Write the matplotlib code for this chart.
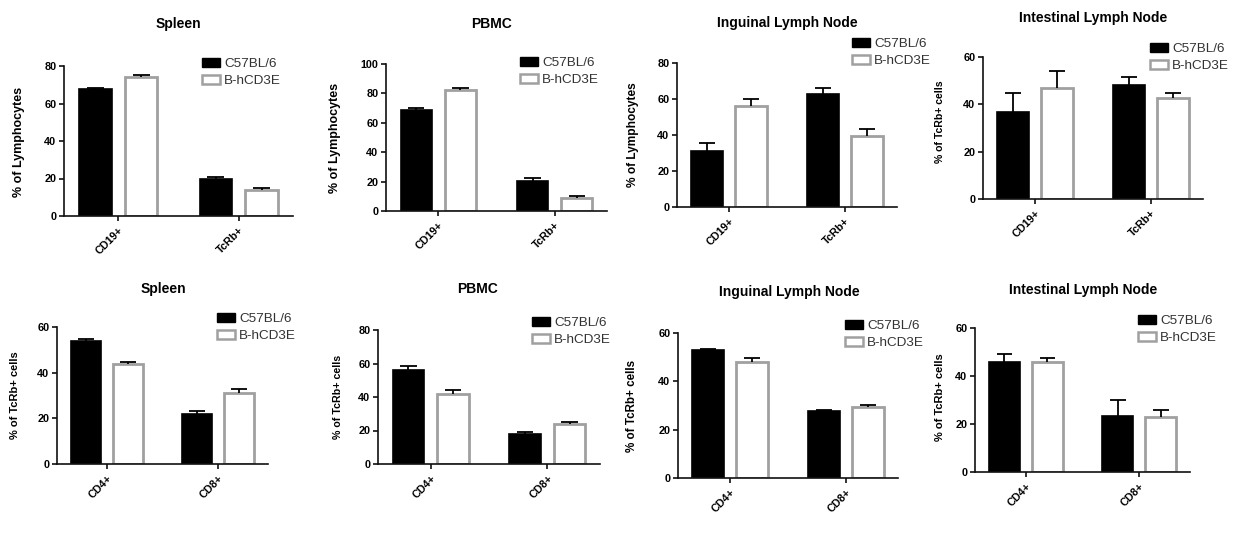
import matplotlib
matplotlib.use("Agg")
import matplotlib.pyplot as plt
from matplotlib.patches import Patch

plt.rcParams['font.family'] = ['Liberation Sans', 'DejaVu Sans']

W, H = 1236, 545

# ---- data ----
series_names = ['C57BL/6', 'B-hCD3E']
cats_top = ['CD19+', 'TcRb+']
cats_bot = ['CD4+', 'CD8+']

spleen_top_c57 = [68.0, 19.7]
spleen_top_c57_err = [0.4, 1.1]
spleen_top_h = [74.1, 14.0]
spleen_top_h_err = [1.0, 1.0]

pbmc_top_c57 = [68.8, 20.1]
pbmc_top_c57_err = [1.4, 2.5]
pbmc_top_h = [82.6, 9.0]
pbmc_top_h_err = [1.1, 1.1]

ing_top_c57 = [30.9, 62.6]
ing_top_c57_err = [4.7, 3.5]
ing_top_h = [56.3, 39.3]
ing_top_h_err = [3.5, 4.2]

int_top_c57 = [36.6, 48.2]
int_top_c57_err = [8.0, 3.4]
int_top_h = [46.7, 42.5]
int_top_h_err = [7.3, 2.1]

spleen_bot_c57 = [53.8, 22.1]
spleen_bot_c57_err = [1.0, 0.9]
spleen_bot_h = [43.6, 31.1]
spleen_bot_h_err = [0.9, 1.7]

pbmc_bot_c57 = [56.4, 18.2]
pbmc_bot_c57_err = [2.2, 1.0]
pbmc_bot_h = [41.6, 23.6]
pbmc_bot_h_err = [2.4, 1.5]

ing_bot_c57 = [53.1, 27.9]
ing_bot_c57_err = [0.3, 0.4]
ing_bot_h = [48.0, 29.5]
ing_bot_h_err = [1.7, 0.7]

int_bot_c57 = [45.7, 23.5]
int_bot_c57_err = [3.3, 6.4]
int_bot_h = [46.0, 22.8]
int_bot_h_err = [1.5, 3.2]

titles = ['Spleen', 'PBMC', 'Inguinal Lymph Node', 'Intestinal Lymph Node'] * 2
ylabels = ['% of Lymphocytes'] * 3 + ['% of TcRb+ cells'] * 5
ymaxes = [80, 100, 80, 60, 60, 80, 60, 60]

panels = [
    (cats_top, spleen_top_c57, spleen_top_c57_err, spleen_top_h, spleen_top_h_err),
    (cats_top, pbmc_top_c57, pbmc_top_c57_err, pbmc_top_h, pbmc_top_h_err),
    (cats_top, ing_top_c57, ing_top_c57_err, ing_top_h, ing_top_h_err),
    (cats_top, int_top_c57, int_top_c57_err, int_top_h, int_top_h_err),
    (cats_bot, spleen_bot_c57, spleen_bot_c57_err, spleen_bot_h, spleen_bot_h_err),
    (cats_bot, pbmc_bot_c57, pbmc_bot_c57_err, pbmc_bot_h, pbmc_bot_h_err),
    (cats_bot, ing_bot_c57, ing_bot_c57_err, ing_bot_h, ing_bot_h_err),
    (cats_bot, int_bot_c57, int_bot_c57_err, int_bot_h, int_bot_h_err),
]

# ---- layout (pixels) ----
axes_px = [  # left, right, top, bottom
    (64, 293, 66, 216),
    (386, 607, 64, 211),
    (677, 897, 63, 207),
    (983, 1203, 57, 199),
    (57, 268, 327, 464),
    (378, 600, 330, 464),
    (678, 898, 333, 478),
    (975, 1190, 328, 472),
]
title_px = [(178, 24), (492, 24), (787, 23), (1093, 18),
            (163, 289), (478, 289), (789, 292), (1083, 290)]
ylabel_px = [(19, 142), (335, 138), (633, 135), (940, 122),
             (15, 395), (338, 397), (632, 406), (940, 397)]
ylabel_fs = [9, 9, 8.6, 7.6, 8, 7.7, 8.4, 8]
legend_px = [(202, 58), (520, 57), (852, 38), (1150, 43),
             (217, 313), (532, 317), (845, 320), (1138, 315)]

fig = plt.figure(figsize=(W / 100, H / 100), dpi=100)

GRAY = '#a0a0a0'
bw = 0.27
off = 0.19
cw = 0.07

for i, (cats, c57, c57e, hv, hve) in enumerate(panels):
    l, r, t, b = axes_px[i]
    ax = fig.add_axes([l / W, 1 - b / H, (r - l) / W, (b - t) / H])
    xs = list(range(len(cats)))
    x1 = [x - off for x in xs]
    x2 = [x + off for x in xs]
    ax.bar(x1, c57, width=bw, color='black', edgecolor='black', linewidth=1.2, zorder=2)
    ax.bar(x2, hv, width=bw, color='white', edgecolor=GRAY, linewidth=2.0, zorder=2)
    for xx, v, e in list(zip(x1, c57, c57e)) + list(zip(x2, hv, hve)):
        ax.vlines(xx, v, v + e, color='black', linewidth=1.3, zorder=3)
        ax.hlines(v + e, xx - cw, xx + cw, color='black', linewidth=1.3, zorder=3)
    ax.set_xlim(-0.45, 1.45)
    ax.set_ylim(0, ymaxes[i])
    ax.set_yticks(list(range(0, ymaxes[i] + 1, 20)))
    ax.set_xticks(xs)
    ax.set_xticklabels(cats, rotation=45, ha='right', va='top',
                       rotation_mode='anchor', fontsize=7.8, fontweight='bold')
    for lab in ax.get_yticklabels():
        lab.set_fontweight('bold')
        lab.set_fontsize(7.8)
    for s in ['top', 'right']:
        ax.spines[s].set_visible(False)
    for s in ['left', 'bottom']:
        ax.spines[s].set_linewidth(1.2)
        ax.spines[s].set_color('#111111')
    ax.tick_params(axis='both', width=1.2, length=3.5, color='#111111', pad=2)
    ax.tick_params(axis='x', pad=3)

    tx, ty = title_px[i]
    fig.text(tx / W, 1 - ty / H, titles[i], ha='center', va='center',
             fontsize=10, fontweight='bold')
    yx, yy = ylabel_px[i]
    fig.text(yx / W, 1 - yy / H, ylabels[i], ha='center', va='center',
             rotation=90, fontsize=ylabel_fs[i], fontweight='bold')
    handles = [Patch(facecolor='black', edgecolor='black', linewidth=1.0),
               Patch(facecolor='white', edgecolor=GRAY, linewidth=1.8)]
    lx, ly = legend_px[i]
    leg = fig.legend(handles, series_names, loc='upper left',
                     bbox_to_anchor=(lx / W, 1 - ly / H), bbox_transform=fig.transFigure,
                     frameon=False, borderpad=0, borderaxespad=0, fontsize=9.7,
                     handlelength=1.3, handleheight=0.6, handletextpad=0.33,
                     labelspacing=0.4)
    for txt in leg.get_texts():
        txt.set_color('#333333')

fig.savefig('out.png', dpi=100)
